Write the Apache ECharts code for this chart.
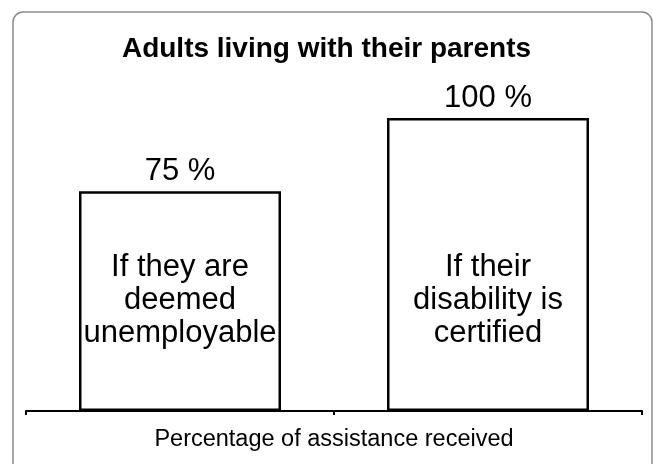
<!DOCTYPE html>
<html>
<head>
<meta charset="utf-8">
<script src="https://cdn.jsdelivr.net/npm/echarts@6/dist/echarts.min.js"></script>
<style>
  html, body { margin: 0; padding: 0; background: #fff; }
  #chart { width: 653px; height: 464px; }
</style>
</head>
<body>
<div id="chart"></div>
<script>
// chart data
const categories = ['If they are\ndeemed\nunemployable', 'If their\ndisability is\ncertified']
const values = [75, 100]
const topLabels = ['75 %', '100 %']

const chart = echarts.init(document.getElementById('chart'))
const font = '"Liberation Sans", Arial, sans-serif'

const option = {
  animation: false,
  backgroundColor: '#fff',
  graphic: [
    {
      type: 'rect',
      shape: { x: 13, y: 12, width: 639, height: 462, r: 10 },
      style: { fill: 'none', stroke: '#8a8a8a', lineWidth: 1.5 },
      z: -1,
    },
  ],
  title: {
    text: 'Adults living with their parents',
    left: 'center',
    top: 30,
    textStyle: { fontFamily: font, fontSize: 28, fontWeight: 'bold', color: '#000' },
  },
  grid: { left: 26, right: 11, top: 118, bottom: 53 },
  xAxis: {
    type: 'category',
    data: categories,
    name: 'Percentage of assistance received',
    nameLocation: 'middle',
    nameGap: 17,
    nameTextStyle: { fontFamily: font, fontSize: 23.5, color: '#000' },
    axisLine: { lineStyle: { color: '#000', width: 2 } },
    axisTick: { show: true, length: 4, lineStyle: { color: '#000', width: 2 } },
    axisLabel: { show: false },
  },
  yAxis: {
    type: 'value',
    min: 0,
    max: 100,
    show: false,
    splitLine: { show: false },
  },
  series: [
    {
      type: 'bar',
      data: values,
      barWidth: 202,
      barGap: '-100%',
      itemStyle: { color: '#fff', borderColor: '#000', borderWidth: 2.5 },
      label: {
        show: true,
        position: 'top',
        distance: 4,
        formatter: (p) => topLabels[p.dataIndex],
        fontFamily: font,
        fontSize: 31,
        color: '#000',
      },
    },
    {
      type: 'bar',
      data: values,
      barWidth: 202,
      barGap: '-100%',
      itemStyle: { color: 'rgba(0,0,0,0)' },
      label: {
        show: true,
        position: 'insideBottom',
        distance: 61,
        formatter: (p) => categories[p.dataIndex],
        fontFamily: font,
        fontSize: 31,
        lineHeight: 33,
        color: '#000',
        align: 'center',
      },
    },
  ],
}

chart.setOption(option)
</script>
</body>
</html>
